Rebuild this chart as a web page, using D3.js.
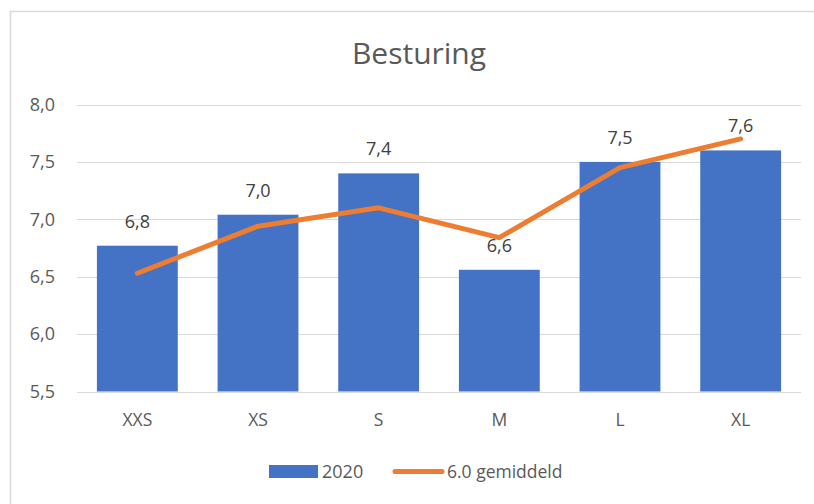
<!DOCTYPE html>
<html>
<head>
<meta charset="utf-8">
<script src="https://cdn.jsdelivr.net/npm/d3@7"></script>
<style>
  body { margin: 0; background: #fff; }
  svg { display: block; font-family: "Open Sans", sans-serif; }
</style>
</head>
<body>
<svg width="814" height="504"></svg>
<script>
var categories = ["XXS", "XS", "S", "M", "L", "XL"],
    values2020 = [6.77, 7.04, 7.40, 6.56, 7.50, 7.60],
    labels2020 = ["6,8", "7,0", "7,4", "6,6", "7,5", "7,6"],
    averages = [6.53, 6.94, 7.10, 6.84, 7.45, 7.70],
    yTicks = [5.5, 6.0, 6.5, 7.0, 7.5, 8.0];

var svg = d3.select("svg"),
    margin = {left: 77, right: 801, top: 104.5, bottom: 391.5};

var x = d3.scaleBand()
    .domain(categories)
    .range([margin.left, margin.right])
    .paddingInner(0.33)
    .paddingOuter(0.165);

var y = d3.scaleLinear()
    .domain([5.5, 8.0])
    .range([margin.bottom, margin.top]);

// chart border (runs off the right / bottom)
svg.append("rect")
    .attr("x", 10.5).attr("y", 11.5)
    .attr("width", 830).attr("height", 520)
    .attr("fill", "none")
    .attr("stroke", "#d9d9d9")
    .attr("stroke-width", 1.5);

svg.append("text")
    .attr("x", 419).attr("y", 64)
    .attr("text-anchor", "middle")
    .attr("font-size", 30)
    .attr("fill", "#595959")
    .text("Besturing");

// gridlines
svg.append("g")
  .selectAll("line")
  .data(yTicks)
  .join("line")
    .attr("x1", margin.left).attr("x2", margin.right)
    .attr("y1", function(d) { return Math.round(y(d)) + 0.5; })
    .attr("y2", function(d) { return Math.round(y(d)) + 0.5; })
    .attr("stroke", "#d9d9d9")
    .attr("stroke-width", 1.2);

// y axis labels
var yAxis = d3.axisLeft(y)
    .tickValues(yTicks)
    .tickSize(0)
    .tickPadding(22)
    .tickFormat(function(d) { return d3.format(".1f")(d).replace(".", ","); });

svg.append("g")
    .attr("transform", "translate(" + margin.left + ",0)")
    .call(yAxis)
    .call(function(g) { g.select(".domain").remove(); })
    .selectAll("text")
    .attr("font-size", 18)
    .attr("font-family", "Open Sans, sans-serif")
    .attr("fill", "#595959");

// x axis labels
var xAxis = d3.axisBottom(x).tickSize(0).tickPadding(22);
svg.append("g")
    .attr("transform", "translate(0," + margin.bottom + ")")
    .call(xAxis)
    .call(function(g) { g.select(".domain").remove(); })
    .selectAll("text")
    .attr("font-size", 17.5)
    .attr("font-family", "Open Sans, sans-serif")
    .attr("fill", "#595959");

// bars
svg.append("g")
  .selectAll("rect")
  .data(values2020)
  .join("rect")
    .attr("x", function(d, i) { return x(categories[i]); })
    .attr("y", function(d) { return y(d); })
    .attr("width", x.bandwidth())
    .attr("height", function(d) { return y(5.5) - y(d); })
    .attr("fill", "#4472c4");

// average line
var line = d3.line()
    .x(function(d, i) { return x(categories[i]) + x.bandwidth() / 2; })
    .y(function(d) { return y(d); });

svg.append("path")
    .datum(averages)
    .attr("d", line)
    .attr("fill", "none")
    .attr("stroke", "#ed7d31")
    .attr("stroke-width", 5)
    .attr("stroke-linecap", "round")
    .attr("stroke-linejoin", "round");

// data labels
svg.append("g")
  .selectAll("text")
  .data(values2020)
  .join("text")
    .attr("x", function(d, i) { return x(categories[i]) + x.bandwidth() / 2; })
    .attr("y", function(d) { return y(d) - 18; })
    .attr("text-anchor", "middle")
    .attr("font-size", 18)
    .attr("fill", "#404040")
    .text(function(d, i) { return labels2020[i]; });

// legend
var legend = svg.append("g");
legend.append("rect")
    .attr("x", 269).attr("y", 465)
    .attr("width", 49).attr("height", 13)
    .attr("fill", "#4472c4");
legend.append("text")
    .attr("x", 322).attr("y", 478)
    .attr("font-size", 18)
    .attr("fill", "#595959")
    .text("2020");
legend.append("line")
    .attr("x1", 395).attr("x2", 442)
    .attr("y1", 471.5).attr("y2", 471.5)
    .attr("stroke", "#ed7d31")
    .attr("stroke-width", 5)
    .attr("stroke-linecap", "round");
legend.append("text")
    .attr("x", 447).attr("y", 478)
    .attr("font-size", 17.5)
    .attr("fill", "#595959")
    .text("6.0 gemiddeld");
</script>
</body>
</html>
